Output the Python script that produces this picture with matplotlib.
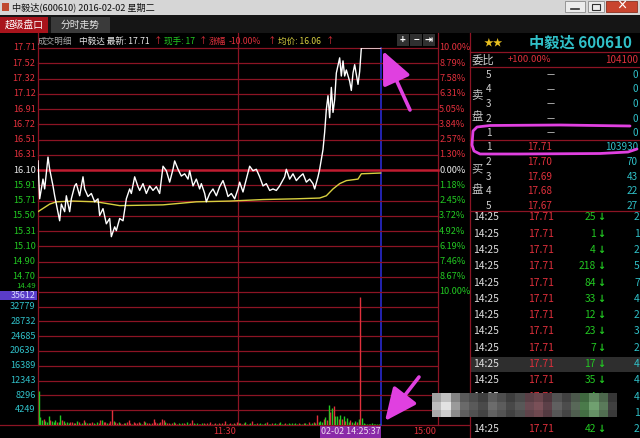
import numpy as np
import matplotlib
matplotlib.use('Agg')
import matplotlib.pyplot as plt
from matplotlib.patches import Rectangle

plt.rcParams['font.family'] = ['Noto Sans CJK SC', 'DejaVu Sans']

# ---------------- data ----------------
pre_close = 16.10
price_minutes = [0, 1, 3, 4, 6, 7, 9, 10, 11, 13, 14, 16, 17, 18, 19, 20, 22, 23, 25, 27, 28, 30, 32, 34, 36,
                 37, 39, 41, 43, 44, 46, 47, 49, 51, 53, 55, 56, 58, 60, 61, 63, 65, 67, 69, 71, 73, 75, 77, 79,
                 81, 82, 84, 86, 88, 90, 91, 93, 95, 97, 98, 100, 101, 103, 105, 107, 109, 111, 113, 114, 116,
                 118, 120, 121, 123, 125, 127, 129, 131, 133, 135, 137, 139, 141, 143, 145, 148, 149, 151, 153,
                 155, 157, 159, 161, 163, 165, 166, 168, 169, 171, 172, 173, 174, 175, 176, 177, 178, 179, 181,
                 182, 183, 184, 185, 187, 188, 189, 190, 191, 192, 193, 194, 205.6]
price_values = [16.22, 15.72, 15.98, 15.85, 16.27, 16.11, 15.89, 15.76, 15.65, 15.43, 15.65, 15.55, 15.76,
                15.65, 15.55, 15.72, 15.89, 15.92, 15.76, 16.01, 15.85, 15.75, 15.79, 15.68, 15.72, 15.50,
                15.59, 15.39, 15.46, 15.22, 15.35, 15.30, 15.46, 15.43, 15.72, 15.85, 15.79, 16.01, 15.88,
                15.83, 15.92, 15.79, 15.89, 15.83, 15.88, 15.79, 16.15, 16.09, 15.94, 16.11, 16.22, 16.11,
                16.02, 16.05, 15.98, 16.09, 15.89, 15.98, 15.85, 15.92, 15.79, 15.68, 15.79, 15.85, 15.76,
                15.88, 15.96, 15.83, 15.75, 15.79, 15.72, 15.85, 15.94, 15.81, 15.98, 16.15, 16.09, 16.11,
                16.01, 15.89, 15.92, 15.83, 15.85, 15.83, 15.89, 16.01, 16.11, 15.98, 16.05, 15.96, 16.01,
                16.05, 15.94, 15.98, 15.92, 15.85, 16.01, 16.11, 16.37, 16.60, 16.90, 17.08, 16.79, 17.19,
                16.86, 17.03, 17.38, 17.58, 17.34, 17.54, 17.34, 17.42, 17.27, 17.15, 17.38, 17.49, 17.36,
                17.23, 17.40, 17.71, 17.71]
avg_minutes = [0, 7, 11, 21, 35, 49, 75, 95, 115, 135, 155, 169, 173, 177, 181, 185, 192, 194, 205.6]
avg_values = [15.55, 15.65, 15.68, 15.69, 15.68, 15.63, 15.64, 15.68, 15.69, 15.71, 15.72, 15.73, 15.76,
              15.85, 15.92, 15.96, 15.98, 16.05, 16.06]

volume = [9500, 2200, 1500, 1800, 1200, 900, 2500, 1400, 1000, 800,
          1300, 700, 900, 2800, 1500, 1100, 600, 800, 500, 700,
          900, 600, 500, 1200, 800, 400, 600, 1400, 700, 500,
          600, 500, 800, 600, 400, 900, 500, 1300, 1500, 900,
          700, 500, 600, 1000, 4100, 1200, 800, 600, 900, 500,
          400, 600, 500, 700, 1300, 500, 400, 900, 600, 500,
          800, 500, 400, 1000, 700, 500, 600, 400, 500, 1600,
          700, 600, 500, 700, 1800, 1400, 800, 600, 500, 400,
          500, 700, 600, 400, 500, 300, 600, 500, 400, 700,
          400, 500, 1500, 600, 400, 500, 300, 400, 600, 500,
          400, 500, 300, 900, 400, 300, 500, 400, 600, 300,
          500, 400, 1200, 300, 400, 500, 300, 600, 400, 900,
          500, 600, 400, 500, 800, 400, 300, 500, 1100, 400,
          300, 500, 400, 600, 300, 400, 500, 700, 400, 300,
          500, 400, 600, 300, 500, 700, 400, 300, 500, 400,
          600, 400, 500, 300, 600, 400, 500, 300, 400, 600,
          500, 300, 700, 400, 500, 800, 600, 2900, 700, 1200,
          900, 1800, 2200, 1500, 5500, 3500, 4800, 5200, 2600, 2500,
          1800, 2800, 1600, 2400, 1200, 2000, 900, 1500, 800, 600,
          1100, 700, 1800, 35612, 2000, 600, 300, 400, 200, 300,
          500, 200, 300, 400, 200, 300]
vol_dir = ("gggrgggrgg" "grggrgrggr" "rgrgrrgrgr" "grrgrgrrgr" "rgrrrgrrgr"
           "rrgrrrgrrr" "rgrrgrrgrr" "rrgrrrgrrg" "rgrrgrgrrg" "grrgrgrrgr"
           "grgrrgrgrg" "rgrgrrgrgr" "grgrgrggrg" "grgggrgrgg" "rgggrgggrg"
           "gggrggrggr" "ggrggrgrgg" "grgrgrgrgg" "rgrgrggrgr" "grgrgggggg" "gggggg")

price_labels = ['17.71', '17.52', '17.32', '17.12', '16.91', '16.72', '16.51', '16.31', '16.10',
                '15.91', '15.71', '15.50', '15.31', '15.10', '14.90', '14.70', '14.49']
pct_labels = ['10.00%', '8.79%', '7.58%', '6.31%', '5.05%', '3.84%', '2.57%', '1.30%', '0.00%',
              '1.18%', '2.45%', '3.72%', '4.92%', '6.19%', '7.46%', '8.67%', '10.00%']
vol_tick_values = [4249, 8296, 12343, 16389, 20639, 24685, 28732, 32779]
vol_max = 35612
vol_axis_top = 36900

sell_levels = ['5', '4', '3', '2', '1']
sell_vols = [0, 0, 0, 0, 0]
buy_levels = ['1', '2', '3', '4', '5']
buy_prices = ['17.71', '17.70', '17.69', '17.68', '17.67']
buy_vols = [103930, 70, 43, 22, 27]
trade_times = ['14:25'] * 14
trade_prices = ['17.71'] * 14
trade_vols = [25, 1, 4, 218, 84, 33, 12, 23, 7, 17, 35, 4, 5, 42]
trade_counts = [2, 1, 2, 5, 7, 4, 2, 3, 2, 4, 4, 4, 1, 2]

# ---------------- styles ----------------
RED = '#e0303c'
GREEN = '#22c822'
GRID = '#8c1424'
CYAN = '#30c0c8'
MAG = '#e040e0'
W, H = 640, 438

fig = plt.figure(figsize=(6.4, 4.38), dpi=100, facecolor='black')
bg = fig.add_axes([0, 0, 1, 1], zorder=0)
bg.set_xlim(0, W); bg.set_ylim(H, 0); bg.axis('off')


def rect(ax, x0, y0, x1, y1, color, **kw):
    ax.add_patch(Rectangle((x0, y0), x1 - x0, y1 - y0, facecolor=color,
                           edgecolor=kw.pop('ec', 'none'), lw=kw.pop('lw', 0), **kw))


def txt(x, y, s, color, size=7, ha='left', va='center', ax=bg, **kw):
    ax.text(x, y, s, color=color, fontsize=size, ha=ha, va=va, **kw)


# title bar
rect(bg, 0, 0, W, 15, '#d6d6d6')
rect(bg, 2, 3, 9, 11, '#c04a30')
txt(12, 7.5, '中毅达(600610) 2016-02-02 星期二', '#101010', 6.6)
rect(bg, 565, 1, 585, 12, '#ececec', ec='#8a8a8a', lw=0.6)
bg.plot([571, 579], [9, 9], color='#303030', lw=1.2)
rect(bg, 588, 1, 604, 12, '#ececec', ec='#8a8a8a', lw=0.6)
rect(bg, 592, 3.5, 600, 9.5, 'none', ec='#303030', lw=0.8)
rect(bg, 606, 1, 637, 12, '#c8452f', ec='#8a3020', lw=0.6)
txt(621.5, 6.5, '×', 'white', 8, ha='center', fontweight='bold')

# tab row
rect(bg, 0, 15, W, 33, '#151515')
rect(bg, 0, 17, 48, 33, '#a8141c')
txt(24, 25, '超级盘口', 'white', 7, ha='center')
rect(bg, 51, 17, 110, 33, '#3a3a3a')
txt(80, 25, '分时走势', '#e6e6e6', 7, ha='center')

# info line
info = [(38, '成交明细', '#a8a8a8'), (79, '中毅达 最新: 17.71', '#e8e8e8'), (154, '↑', RED),
        (164, '现手: 17', GREEN), (199, '↑', RED), (209, '涨幅', RED), (229, '-10.00%', RED),
        (268, '↑', RED), (278, '均价: 16.06', '#d8d040'), (326, '↑', RED)]
for x, s, c in info:
    txt(x, 41, s, c, 6.2)
for x0, s in [(397, '+'), (410, '−'), (423, '⇥')]:
    rect(bg, x0, 34, x0 + 12, 46, '#303030')
    txt(x0 + 6, 40, s, 'white', 7, ha='center', fontweight='bold')

# frame lines
for x in (38, 238, 438):
    bg.plot([x, x], [33, 425], color=GRID, lw=0.9)
bg.plot([469.5, 469.5], [33, 438], color=GRID, lw=0.9)
bg.plot([0, 470], [425, 425], color=GRID, lw=0.9)

# ---------------- price panel ----------------
pax = fig.add_axes([38 / W, (H - 292) / H, 400 / W, 244 / H], zorder=2)
pax.set_facecolor('none')
pax.set_xlim(0, 240)
lo, hi = pre_close * 0.9, pre_close * 1.1
pax.set_ylim(lo, hi)
pax.axis('off')
levels = np.linspace(lo, hi, 17)[::-1]
ytr = pax.get_yaxis_transform()
for i, lv in enumerate(levels):
    mid = i == 8
    pax.axhline(lv, color='#c01c30' if mid else GRID, lw=1.8 if mid else 0.9, clip_on=False)
    c = '#e8e8e8' if mid else (RED if i < 8 else GREEN)
    if i < 16:
        pax.text(-0.006, lv, price_labels[i], color=c, fontsize=6.6, ha='right', va='center', transform=ytr)
    pax.text(1.003, lv, pct_labels[i], color=c, fontsize=6.6, ha='left', va='center', transform=ytr)
# bottom price label sits just above the highlighted volume maximum box
bg.text(36, 290.5, price_labels[16], color=GREEN, fontsize=5.6, ha='right', va='bottom')
pax.plot(avg_minutes, avg_values, color='#d8d040', lw=1.0)
pax.plot(price_minutes, price_values, color='white', lw=1.0)

# ---------------- volume panel ----------------
vax = fig.add_axes([38 / W, (H - 425) / H, 400 / W, 133 / H], zorder=2)
vax.set_facecolor('none')
vax.set_xlim(0, 240)
vax.set_ylim(0, vol_axis_top)
vax.axis('off')
vtr = vax.get_yaxis_transform()
for v in vol_tick_values:
    vax.axhline(v, color=GRID, lw=0.9)
    vax.text(-0.006, v, str(v), color=CYAN, fontsize=6.6, ha='right', va='center', transform=vtr)
mins = np.arange(len(volume))
cols = [RED if d == 'r' else GREEN for d in vol_dir]
vax.vlines(mins + 0.3, 0, volume, colors=cols, lw=1.0)

# cursor line
cursor = 205.6
bg.plot([38 + cursor * 400 / 240] * 2, [48, 425], color='#2a2ad0', lw=1.2, zorder=3)

# top volume label and bottom time labels
rect(bg, 0, 290.5, 37, 300, '#5a3cc8', zorder=4)
txt(36, 295.3, str(vol_max), '#d8d8ff', 6.4, ha='right', zorder=5)
txt(236, 432, '11:30', RED, 6.6, ha='right')
txt(436, 432, '15:00', RED, 6.6, ha='right')
rect(bg, 320, 426, 381, 438, '#8a2aa8')
txt(350.5, 432, '02-02 14:25:37', '#f0e0f0', 6.4, ha='center')

# ---------------- right panel ----------------
for y in (51.5, 67, 140, 211):
    bg.plot([470, W], [y, y], color=GRID, lw=0.9)
txt(484, 43, '★★', '#e8c020', 7)
txt(529, 43, '中毅达 600610', CYAN, 11, fontweight='bold')
txt(472, 60, '委比', '#d0d0d0', 8.2)
txt(508, 60, '+100.00%', RED, 6.8)
txt(638, 60, '104100', RED, 7, ha='right')

sell_y = [75, 89.5, 104, 118.5, 133]
for lvl, v, y in zip(sell_levels, sell_vols, sell_y):
    txt(486, y, lvl, '#d0d0d0', 7.2)
    txt(551, y, '—', '#d0d0d0', 6.5, ha='center')
    txt(638, y, str(v), CYAN, 7.2, ha='right')
txt(471, 95, '卖', '#c8c8c8', 8.2)
txt(471, 117, '盘', '#c8c8c8', 8.2)

buy_y = [147.5, 162, 177, 191.5, 206]
for lvl, p, v, y in zip(buy_levels, buy_prices, buy_vols, buy_y):
    txt(486, y, lvl, '#d0d0d0', 7.2)
    txt(540, y, p, RED, 7.2, ha='center')
    txt(638, y, str(v), CYAN, 7.2, ha='right')
txt(471, 169, '买', '#c8c8c8', 8.2)
txt(471, 190, '盘', '#c8c8c8', 8.2)

rect(bg, 470, 357, W, 372, '#2e2e2e')
for i, (t, p, v, n) in enumerate(zip(trade_times, trade_prices, trade_vols, trade_counts)):
    y = 217.3 + 16.3 * i
    txt(473, y, t, '#e0e0e0', 7.4)
    txt(541, y, p, RED, 7.4, ha='center')
    txt(596, y, str(v), GREEN, 7.4, ha='right')
    txt(597, y, '↓', GREEN, 7, fontweight='bold', family='DejaVu Sans')
    txt(634, y, str(n), CYAN, 7.4)

# ---------------- overlay: blur patch, marker ink ----------------
ov = fig.add_axes([0, 0, 1, 1], zorder=10)
ov.set_xlim(0, W); ov.set_ylim(H, 0); ov.axis('off'); ov.set_facecolor('none')
patch_cols = ['#bdbdbd', '#e2e2e2', '#9a9a9a', '#6a6a6a', '#5a5a5a', '#4a4a4a', '#6c6c6c', '#5c5c5c',
              '#484848', '#585858', '#6a4a52', '#7a5058', '#5c4048', '#606060', '#4c4c4c', '#586858',
              '#4a7a4a', '#70a070', '#5a7a5a', '#404040']
patch_rows = [(393, 402, 0.85), (402, 410, 1.0), (410, 417, 0.9)]
bw = (617 - 432) / len(patch_cols)
for r0, r1, k in patch_rows:
    for j, c in enumerate(patch_cols):
        rgb = np.clip(np.array(matplotlib.colors.to_rgb(c)) * k, 0, 1)
        rect(ov, 432 + j * bw, r0, 432 + (j + 1) * bw + 0.3, r1, rgb)

ov.annotate('', xy=(383, 51), xytext=(410, 110),
            arrowprops=dict(arrowstyle='-|>,head_length=1.1,head_width=0.5', color=MAG, lw=2.6,
                            mutation_scale=18, shrinkA=0, shrinkB=0))
ov.annotate('', xy=(385, 421), xytext=(419, 377),
            arrowprops=dict(arrowstyle='-|>,head_length=1.1,head_width=0.5', color=MAG, lw=2.6,
                            mutation_scale=18, shrinkA=0, shrinkB=0))
ex = [630, 560, 490, 477, 473, 472, 474, 480, 520, 600, 628, 637]
ey = [126, 125, 125.5, 127, 131, 145, 151, 154, 154, 153.5, 152, 149]
ov.plot(ex, ey, color=MAG, lw=2.0, solid_capstyle='round')

fig.savefig('out.png', dpi=100, facecolor='black')
